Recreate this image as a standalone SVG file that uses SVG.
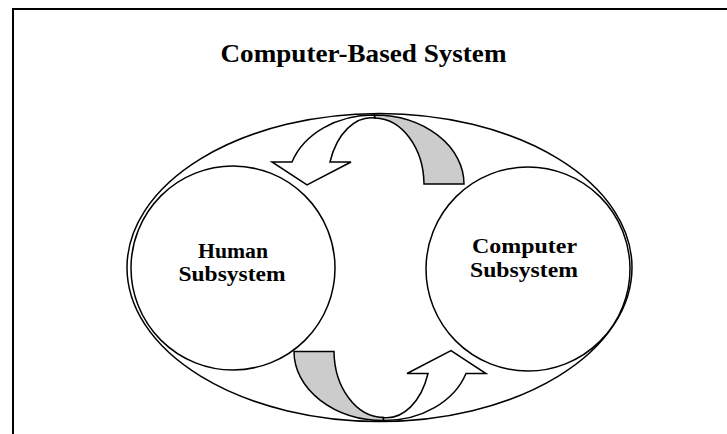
<svg xmlns="http://www.w3.org/2000/svg" xmlns:xlink="http://www.w3.org/1999/xlink" width="727" height="434" viewBox="0 0 727 434">
  <style>
    .line { fill: none; stroke: #000; stroke-width: 1.5; }
    .disc { fill: #fff; stroke: #000; stroke-width: 1.5; }
    .face { fill: #fff; stroke: #000; stroke-width: 1.5; stroke-linejoin: miter; }
    .back { fill: #cccccc; stroke: #000; stroke-width: 1.5; stroke-linejoin: miter; }
    .label { font-family: "Liberation Serif", "Times New Roman", serif; font-weight: bold; fill: #000; text-anchor: middle; }
  </style>
  <defs>
    <!-- Curved ribbon arrow: white front face with arrowhead, shaded back face -->
    <g id="curved-arrow">
      <path class="back" d="M 374,115 A 90 69 0 0 1 464,184 L 424,184 A 50 67 0 0 0 375,118 Z"/>
      <path class="face" d="M 330,162 A 44 67 0 0 1 375,118 L 374,115 A 86 69 0 0 0 292,162 L 272,162 L 307,185 L 351,162 Z"/>
    </g>
  </defs>

  <rect id="border" x="13" y="9" width="740" height="460" fill="#fff" stroke="#000" stroke-width="2"/>

  <g id="title">
    <text class="label" x="363.5" y="62" font-size="26" textLength="286" lengthAdjust="spacingAndGlyphs">Computer-Based System</text>
  </g>

  <g id="system">
    <ellipse class="line" cx="379.5" cy="267.5" rx="252.5" ry="154"/>
  </g>

  <g id="human">
    <circle class="disc" cx="233" cy="268" r="102"/>
    <text class="label" x="233" y="258" font-size="20" textLength="70" lengthAdjust="spacingAndGlyphs">Human</text>
    <text class="label" x="232" y="281" font-size="20" textLength="107" lengthAdjust="spacingAndGlyphs">Subsystem</text>
  </g>

  <g id="computer">
    <circle class="disc" cx="528" cy="269" r="102"/>
    <text class="label" x="524.5" y="253" font-size="20" textLength="105" lengthAdjust="spacingAndGlyphs">Computer</text>
    <text class="label" x="524" y="277" font-size="20" textLength="108" lengthAdjust="spacingAndGlyphs">Subsystem</text>
  </g>

  <g id="connectors">
    <use xlink:href="#curved-arrow"/>
    <use xlink:href="#curved-arrow" transform="rotate(180 379 267.75)"/>
  </g>
</svg>
